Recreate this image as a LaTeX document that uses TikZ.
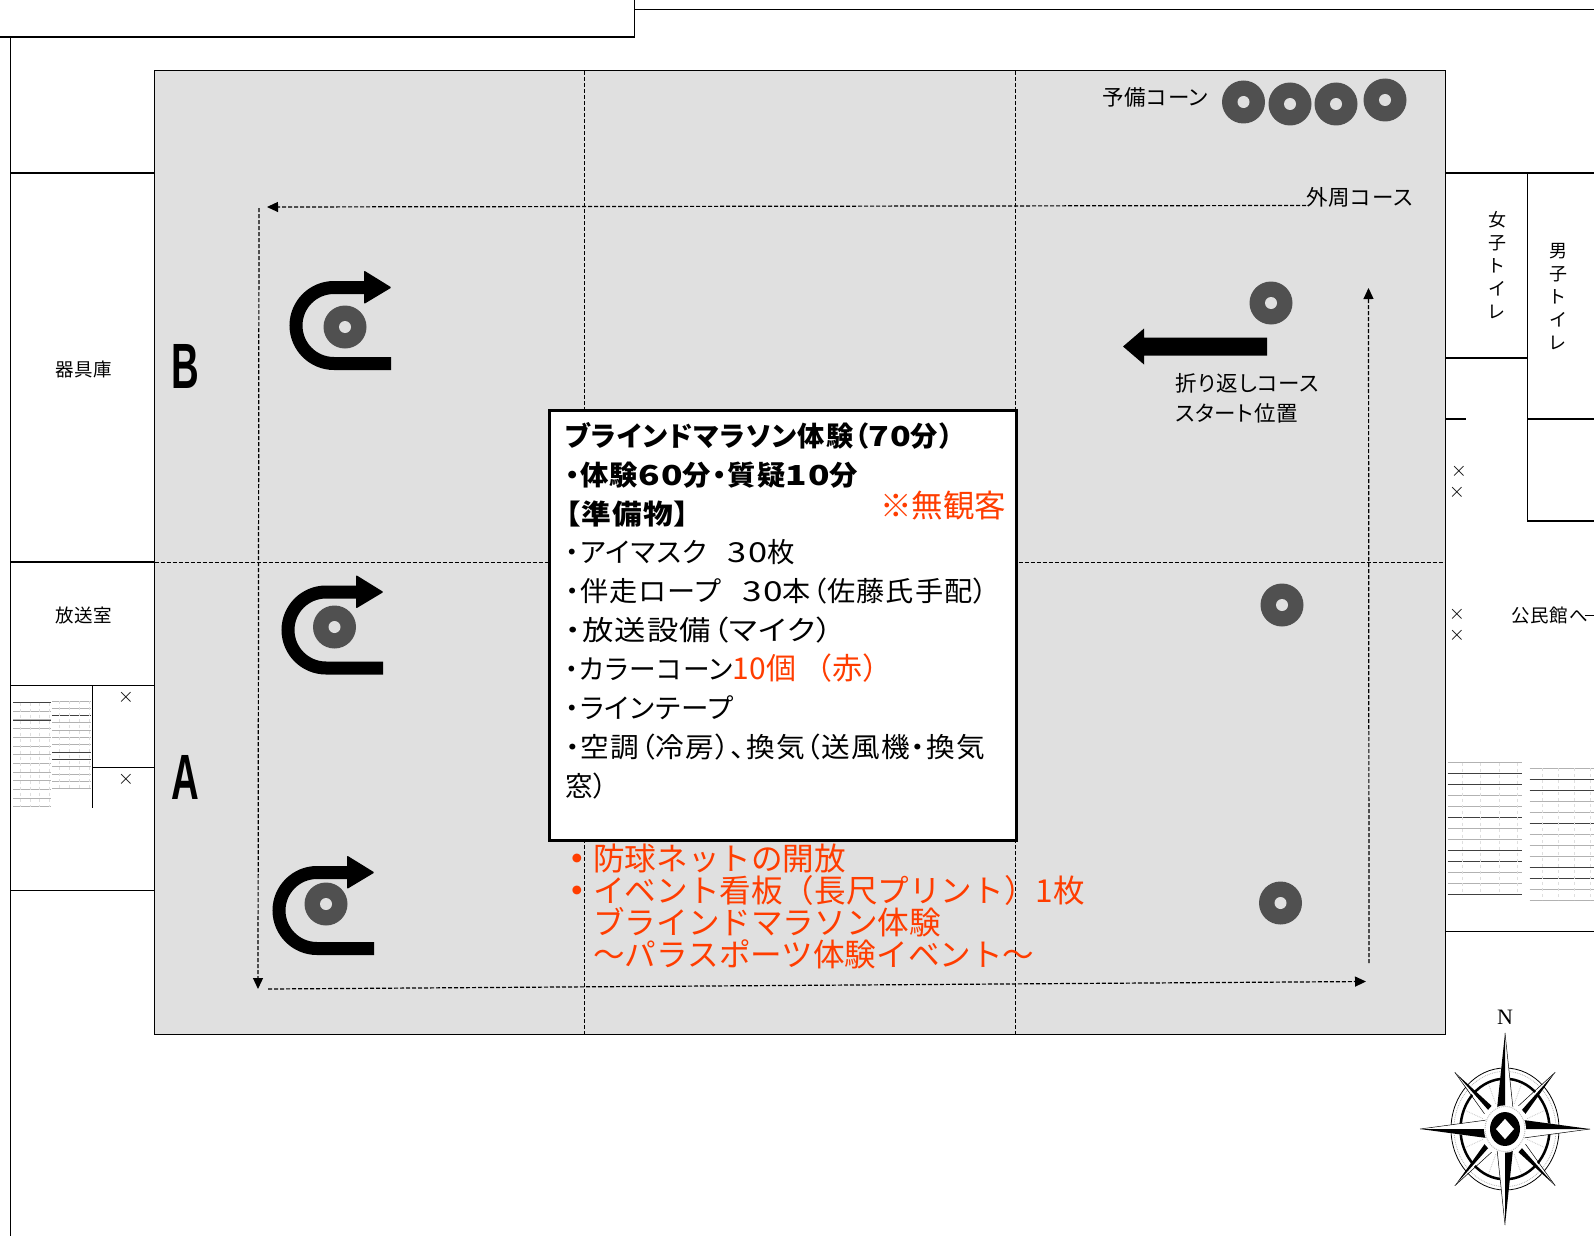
\documentclass[tikz,border=0pt]{standalone}
\usepackage{fontspec}
\usepackage{graphicx}
\setmainfont{Noto Sans CJK JP}[RawFeature=+palt,LetterSpace=4]
\newfontfamily\monojp{Noto Sans CJK JP}
\newfontfamily\latinsans{Liberation Sans}
\newfontfamily\latinserif{Liberation Serif}
\definecolor{floorgray}{HTML}{E0E0E0}
\definecolor{conegray}{HTML}{505050}
\definecolor{notered}{HTML}{FF3D00}
\newcommand{\fsz}[2][0]{\fontsize{#2}{\ifdim#1pt=0pt #2\else #1\fi}\selectfont}
\newcommand{\dg}[1]{\scalebox{1.25}[1]{#1}}
\newcommand{\sx}[2]{\scalebox{#1}[1]{#2}}
\newcommand{\conemark}[3]{\fill[conegray] (#2,#3) circle (21.5); \fill[floorgray] (#2,#3) circle (6);\coordinate (#1) at (#2,#3);}
\newcommand{\uturnmark}[2]{\begin{scope}[shift={(#1,#2)}]
\draw[black,line width=13] (46,36.5) -- (-11,36.5) arc[start angle=90,end angle=270,radius=38] -- (20,-39.5);
\fill[black,rounded corners=1] (19,-56.5) -- (46.5,-39.5) -- (19,-23) -- cycle;
\end{scope}}
\newcommand{\ruledtable}[6]{% x1 x2 y1 step n, strong list
\foreach \i in {0,...,#5}{\draw[gray!60,line width=1] (#1,#3+\i*#4) -- (#2,#3+\i*#4);}
\foreach \i in {#6}{\draw[black!75,line width=.5] (#1,#3+\i*#4) -- (#2,#3+\i*#4);}
\foreach \f in {.2,.45,.7,.95}{\draw[gray!25,line width=1,dash pattern=on 3 off 3] ({#1+\f*(#2-#1)},#3) -- ({#1+\f*(#2-#1)},#3+#5*#4);}}
\usetikzlibrary{arrows.meta}
\tikzset{
 wall/.style={black,line width=1.2},
 guide/.style={black,line width=1,dash pattern=on 4 off 2},
 course/.style={black,line width=1.2,dash pattern=on 4 off 2,-{Triangle[length=11,width=10]}},
 label/.style={inner sep=0,font=\fsz{21.5}},
 small/.style={inner sep=0,font=\fsz{18.5}},
 vtext/.style={inner sep=0,align=center,font={\fsz[23]{18}}},
 redtext/.style={inner sep=0,anchor=north west,align=left,text=notered,font={\monojp\fsz[31.9]{31.6}}},
 xmark/.style={inner sep=0,font=\fsz{22}},
}
\begin{document}
\begin{tikzpicture}[x=1pt,y=-1pt]
\useasboundingbox (0,0) rectangle (1594,1236);
\fill[white] (0,0) rectangle (1594,1236);
% outer walls
\draw[wall,line width=1.6] (0,36.8) -- (634.5,36.8) -- (634.5,0);
\draw[wall] (634.5,9.5) -- (1594,9.5);
\draw[wall] (10.7,36.8) -- (10.7,1236);
\foreach \y in {173,562,685.7,890.7}{\draw[wall] (10.7,\y) -- (154,\y);}
\draw[wall] (92.7,685.7) -- (92.7,808);
\draw[wall] (92.7,767.7) -- (154,767.7);
% right rooms
\draw[wall] (1445,173) -- (1594,173);
\draw[wall] (1527.5,173) -- (1527.5,521) -- (1594,521);
\draw[wall] (1445,358) -- (1527.5,358);
\draw[wall] (1445,419) -- (1466,419);
\draw[wall] (1527.5,419) -- (1594,419);
\draw[wall] (1445,931.5) -- (1594,931.5);
% tables
\ruledtable{13}{51}{702.5}{8.7}{12}{0,2}
\ruledtable{52}{91}{701}{7.3}{12}{2,7,8}
\ruledtable{1447.5}{1521.5}{762.5}{11}{12}{1,2,5,8,9,12}
\ruledtable{1529.5}{1594}{768}{11}{12}{1,2,5,9,10}
% floor
\draw[black,line width=1,fill=floorgray] (154.5,71) rectangle (1445.5,1034.5);
\draw[guide] (584.5,71) -- (584.5,1034.5);
\draw[guide] (1015,71) -- (1015,1034.5);
\draw[guide] (154.5,562.5) -- (1445.5,562.5);
% course
\coordinate (cA) at (1306,205.5);
\coordinate (cB) at (267,207);
\coordinate (cC) at (259,208);
\coordinate (cD) at (258,989);
\coordinate (cE) at (268,989);
\coordinate (cF) at (1366,981.5);
\coordinate (cG) at (1369,963);
\coordinate (cH) at (1368.5,288);
\draw[course] (cA) -- (cB);
\draw[course] (cC) -- (cD);
\draw[course] (cE) -- (cF);
\draw[course] (cG) -- (cH);
% cones
\conemark{s1}{1243.5}{102}
\conemark{s2}{1290}{104}
\conemark{s3}{1336}{104}
\conemark{s4}{1385}{100}
\conemark{r1}{1271}{303}
\conemark{r2}{1282}{605}
\conemark{r3}{1280.5}{903}
\conemark{l1}{345}{327}
\conemark{l2}{334.5}{627}
\conemark{l3}{326}{904}
\uturnmark{345}{327}
\uturnmark{337}{631.5}
\uturnmark{328}{912}
% big arrow
\fill[black] (1267,337.5) -- (1144,337.5) -- (1144,328.5) -- (1123,346.5) -- (1144,364.5) -- (1144,355.5) -- (1267,355.5) -- cycle;
% labels
\node[label,anchor=west] (spare) at (1102,97.5) {予備コーン};
\node[label,anchor=west] (outer) at (1306,197) {外周コース};
\node[label,anchor=north west,align=left,font={\fsz[30]{21.5}}] (start) at (1175,373) {折り返しコース\\スタート位置};
\node[small] (kigu) at (84,369) {器具庫};
\node[small] (hoso) at (84,615) {放送室};
\node[small,anchor=west] (komin) at (1511,615) {公民館へ};
\draw[black,line width=.8] (1585,615) -- (1594,615);
\node[vtext] (women) at (1497,265.5) {女\\子\\ト\\イ\\レ};
\node[vtext] (men) at (1558,296.5) {男\\子\\ト\\イ\\レ};
\node[inner sep=0] (B) at (185,366) {\scalebox{.6}[1]{\latinsans\bfseries\fsz{64}B}};
\node[inner sep=0] (A) at (185,777) {\scalebox{.6}[1]{\latinsans\bfseries\fsz{64}A}};
\node[xmark] (x1) at (126,697) {$\times$};
\node[xmark] (x2) at (126,779) {$\times$};
\node[xmark] (x3) at (1459,471) {$\times$};
\node[xmark] (x4) at (1457,492) {$\times$};
\node[xmark] (x5) at (1457,614) {$\times$};
\node[xmark] (x6) at (1457,635.5) {$\times$};
% red notes
\node[redtext] (notes) at (561.5,844) {\textbf{・}防球ネットの開放\\\textbf{・}イベント看板（長尺プリント）1枚\\　ブラインドマラソン体験\\　～パラスポーツ体験イベント～};
% info box
\draw[black,line width=3,fill=white] (549.5,410) rectangle (1016.5,840);
\node[inner sep=0,anchor=north west,align=left,font={\fsz[38.9]{27.5}}] (info) at (565,422) {\textbf{\sx{.99}{ブラインドマラソン体験（\dg{70}分）}}\\\textbf{\sx{1.03}{・体験\dg{60}分・質疑\dg{10}分}}\\\textbf{\sx{1.08}{【準備物】}}\\・アイマスク\hspace*{21pt}\dg{30}枚\\\sx{1.025}{・伴走ロープ\hspace*{21pt}\dg{30}本（佐藤氏手配）}\\\sx{1.14}{・放送設備（マイク）}\\\sx{.97}{・カラーコーン}\textcolor{notered}{\monojp\fontsize{30}{30}\selectfont 10個 （赤）}\\・ラインテープ\\\sx{1.043}{・空調（冷房）、換気（送風機・換気}\\窓）};
\node[inner sep=0,text=notered,font={\monojp\fsz{31.5}}] (nokyaku) at (943,505.5) {※無観客};
% compass
\node[inner sep=0,font=\latinserif\fsz{22}] (north) at (1505,1017) {N};
\begin{scope}[shift={(1505,1129)},yscale=1.13]
\draw[black,line width=.8] (0,0) circle (54);
\draw[black,line width=2.5] (0,0) circle (44.5);
\draw[gray!60,line width=.8,densely dotted] (0,0) circle (51);
\foreach \a in {22.5,45,...,360}{\draw[gray!45,line width=.8,densely dotted] (\a:24) -- (\a:43);}
\foreach \a in {45,135,225,315}{
 \begin{scope}[rotate=\a]
 \fill[white] (24,-3) -- (71,0) -- (24,3) -- cycle;
 \fill[black] (24,0) -- (71,0) -- (24,5) -- cycle;
 \draw[black,line width=.5] (24,-5) -- (71,0);
 \end{scope}}
\foreach \a in {0,90,180,270}{
 \begin{scope}[rotate=\a]
 \fill[white] (18,-8) -- (85,0) -- (18,8) -- cycle;
 \fill[black] (18,0) -- (85,0) -- (18,-8) -- cycle;
 \draw[black,line width=.5] (18,8) -- (85,0);
 \end{scope}}
\fill[white] (0,0) circle (21);
\draw[gray!50,densely dotted,line width=1] (0,0) circle (20);
\fill[black] (0,0) circle (15);
\fill[white] (-9,0) -- (0,-9) -- (9,0) -- (0,9) -- cycle;
\end{scope}
\end{tikzpicture}
\end{document}
